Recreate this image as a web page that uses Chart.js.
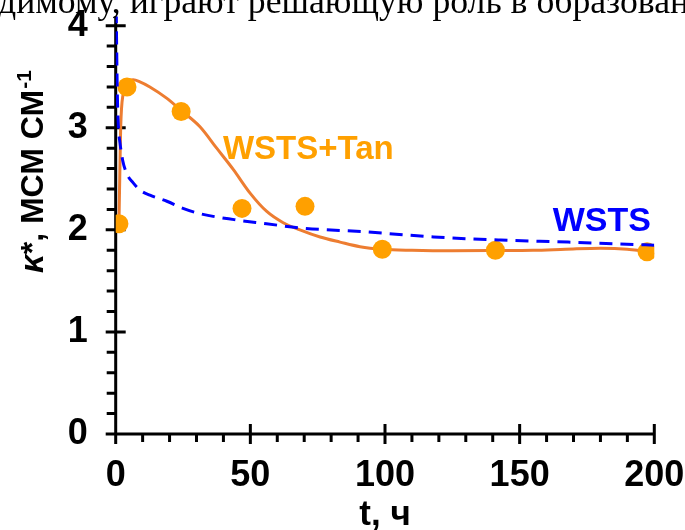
<!DOCTYPE html>
<html>
<head>
<meta charset="utf-8">
<script src="https://cdn.jsdelivr.net/npm/chart.js@4.4.0/dist/chart.umd.min.js"></script>
<style>
  html, body { margin: 0; padding: 0; background: #fff; overflow: hidden; }
  #wrap { position: relative; width: 685px; height: 530px; }
</style>
</head>
<body>
<div id="wrap"><canvas id="c" width="685" height="530"></canvas></div>
<script>
// Axis tick labels
const xTicks = [0, 50, 100, 150, 200];
const yTicks = [0, 1, 2, 3, 4];

// Measured conductivity, WSTS+Tan (t in hours, kappa* in mS/cm)
const tanTimes = [1.2, 4.2, 24.3, 46.9, 70.3, 99, 141, 197.3];
const tanKappa = [2.06, 3.40, 3.16, 2.21, 2.23, 1.81, 1.80, 1.785];

// Smoothed WSTS+Tan curve
const tanFitTimes = [1.2, 1.5, 1.85, 2.8, 4.1, 6.5, 9, 12.7, 18.9, 24.3, 31.3, 37.5, 43.7, 49.9, 56.1, 62.2, 68.4, 75.9, 83.3, 90.7, 99, 110, 125, 141, 155, 167, 180, 190, 197.3, 200];
const tanFitKappa = [2.05, 2.5, 3.0, 3.34, 3.44, 3.47, 3.45, 3.40, 3.29, 3.17, 3.01, 2.80, 2.59, 2.36, 2.18, 2.07, 2.0, 1.93, 1.88, 1.835, 1.81, 1.80, 1.795, 1.797, 1.80, 1.81, 1.82, 1.81, 1.785, 1.76];

// WSTS curve (dashed)
const wstsTimes = [0.2, 0.4, 0.6, 1.0, 1.6, 2.6, 4.1, 6.5, 9, 12.7, 19, 25, 31, 44, 56, 68, 93, 118, 143, 168, 200];
const wstsKappa = [4.15, 3.7, 3.34, 3.01, 2.85, 2.68, 2.55, 2.46, 2.39, 2.34, 2.28, 2.21, 2.16, 2.10, 2.06, 2.02, 1.98, 1.93, 1.90, 1.88, 1.85];

const toXY = (xs, ys) => xs.map((v, i) => ({ x: v, y: ys[i] }));

const SANS = '"Liberation Sans", Arial, sans-serif';
const SERIF = '"Liberation Serif", "Times New Roman", serif';

// Axis lines with major (crossing) and minor (outside) tick marks
const axesPlugin = {
  id: 'axesLines',
  beforeDatasetsDraw(chart) {
    const { ctx, chartArea: a, scales: { x, y } } = chart;
    const x0 = x.getPixelForValue(0);
    const y0 = y.getPixelForValue(0);
    ctx.save();
    ctx.strokeStyle = '#000';
    ctx.lineWidth = 3;
    ctx.lineCap = 'butt';
    ctx.beginPath();
    ctx.moveTo(x0, a.top);
    ctx.lineTo(x0, y0 + 1.5);
    ctx.moveTo(x0 - 1.5, y0);
    ctx.lineTo(x.getPixelForValue(200), y0);
    for (let k = 0; k <= 20; k++) {
      const py = y.getPixelForValue(k * 0.2);
      if (k % 5 === 0) { ctx.moveTo(x0 - 10, py); ctx.lineTo(x0 + 10, py); }
      else { ctx.moveTo(x0 - 9, py); ctx.lineTo(x0, py); }
    }
    for (let k = 0; k <= 20; k++) {
      const px = x.getPixelForValue(k * 10);
      if (k % 5 === 0) { ctx.moveTo(px, y0 - 10); ctx.lineTo(px, y0 + 10); }
      else { ctx.moveTo(px, y0); ctx.lineTo(px, y0 + 8); }
    }
    ctx.stroke();
    ctx.restore();
  }
};

// Series names, y-axis title and the line of body text above the chart
const textPlugin = {
  id: 'texts',
  afterDraw(chart) {
    const { ctx, scales: { x, y } } = chart;
    ctx.save();
    ctx.textBaseline = 'alphabetic';
    ctx.textAlign = 'left';

    ctx.fillStyle = '#000';
    ctx.font = '35.7px ' + SERIF;
    ctx.fillText('димому, играют решающую роль в образовании', -2, 13);

    ctx.font = 'bold 33px ' + SANS;
    ctx.fillStyle = '#FFA000';
    ctx.fillText('WSTS+Tan', x.getPixelForValue(39.8), y.getPixelForValue(2.69));

    ctx.font = 'bold 34px ' + SANS;
    ctx.fillStyle = '#0000FF';
    ctx.fillText('WSTS', x.getPixelForValue(162.3), y.getPixelForValue(1.99));

    // rotated y-axis title: κ*, МСМ СМ⁻¹
    ctx.fillStyle = '#000';
    ctx.translate(43, 273);
    ctx.rotate(-Math.PI / 2);
    let cx = 0;
    ctx.font = 'italic bold 33px ' + SANS;
    ctx.fillText('κ', cx, 0);
    cx += ctx.measureText('κ').width;
    ctx.font = 'bold 32px ' + SANS;
    const main = '*, МСМ СМ';
    ctx.fillText(main, cx, 0);
    cx += ctx.measureText(main).width;
    ctx.font = 'bold 21px ' + SANS;
    ctx.fillText('-1', cx + 1, -12);
    ctx.restore();
  }
};

new Chart(document.getElementById('c'), {
  type: 'scatter',
  data: {
    datasets: [
      {
        label: 'WSTS',
        data: toXY(wstsTimes, wstsKappa),
        showLine: true,
        borderColor: '#0000FF',
        borderWidth: 3,
        borderDash: [13, 8],
        pointRadius: 0,
        cubicInterpolationMode: 'monotone',
        fill: false
      },
      {
        label: 'WSTS+Tan',
        data: toXY(tanTimes, tanKappa),
        showLine: false,
        pointRadius: 9.5,
        pointBackgroundColor: '#FFA000',
        pointBorderWidth: 0,
        pointBorderColor: '#FFA000'
      },
      {
        label: 'WSTS+Tan fit',
        data: toXY(tanFitTimes, tanFitKappa),
        showLine: true,
        borderColor: '#ED7D31',
        borderWidth: 3,
        pointRadius: 0,
        cubicInterpolationMode: 'monotone',
        fill: false
      }
    ]
  },
  options: {
    responsive: false,
    animation: false,
    devicePixelRatio: 1,
    layout: { padding: { left: 0, right: 30.7, top: 16.5, bottom: 0 } },
    plugins: { legend: { display: false }, tooltip: { enabled: false } },
    scales: {
      x: {
        type: 'linear',
        min: 0,
        max: 200,
        bounds: 'data',
        afterBuildTicks: s => { s.ticks = xTicks.map(v => ({ value: v })); },
        afterFit: s => { s.height = 96; s.paddingLeft = 0; s.paddingRight = 0; },
        grid: { display: false, drawTicks: false },
        border: { display: false },
        ticks: {
          color: '#000',
          font: { family: SANS, size: 36, weight: 'bold' },
          padding: 20,
          maxRotation: 0,
          autoSkip: false
        },
        title: {
          display: true,
          text: 't, ч',
          color: '#000',
          font: { family: SANS, size: 35, weight: 'bold', lineHeight: 1 },
          padding: { top: 0, bottom: -3 }
        }
      },
      y: {
        type: 'linear',
        min: 0,
        max: 4.09,
        bounds: 'data',
        afterBuildTicks: s => { s.ticks = yTicks.map(v => ({ value: v })); },
        afterFit: s => { s.width = 115.7; s.paddingTop = 0; s.paddingBottom = 0; },
        grid: { display: false, drawTicks: false },
        border: { display: false },
        ticks: {
          color: '#000',
          font: { family: SANS, size: 36, weight: 'bold' },
          padding: 28,
          autoSkip: false
        }
      }
    }
  },
  plugins: [axesPlugin, textPlugin]
});
</script>
</body>
</html>
